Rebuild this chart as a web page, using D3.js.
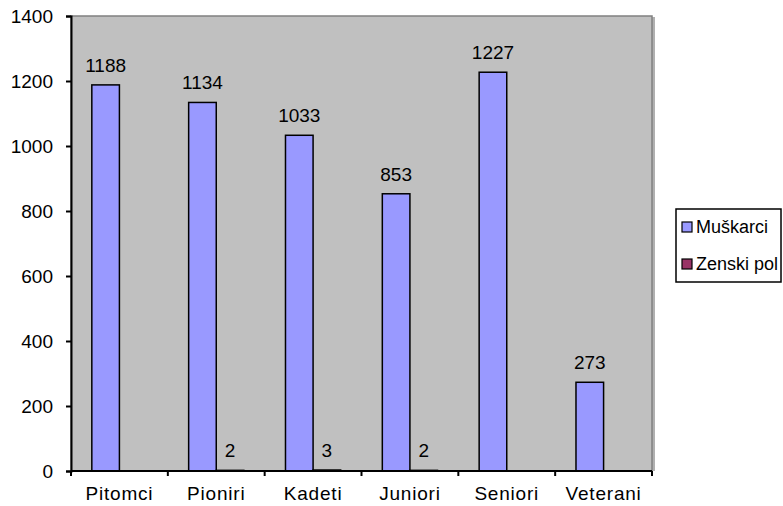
<html>
<head>
<meta charset="utf-8">
<style>
  body { margin: 0; background: #fff; }
  text { font-family: "Liberation Sans", Arial, sans-serif; fill: #000; }
</style>
</head>
<body>
<script src="https://d3js.org/d3.v7.min.js"></script>
<script>
var categories = ["Pitomci", "Pioniri", "Kadeti", "Juniori", "Seniori", "Veterani"]
var muskarci = [1188, 1134, 1033, 853, 1227, 273]
var zenski = [null, 2, 3, 2, null, null]
var seriesNames = ["Muškarci", "Zenski pol"]
var yTicks = [0, 200, 400, 600, 800, 1000, 1200, 1400]

var width = 783, height = 506
var margin = {left: 71, top: 16, right: 131, bottom: 35}
var colors = ["#9999ff", "#993366"]
var fs = "19px"

var svg = d3.select("body").append("svg")
    .attr("width", width)
    .attr("height", height)

var x0 = d3.scaleBand()
    .domain(categories)
    .range([margin.left, width - margin.right])
    .paddingInner(0.43)
    .paddingOuter(0.215)

var x1 = d3.scaleBand()
    .domain([0, 1])
    .range([0, x0.bandwidth()])

var y = d3.scaleLinear()
    .domain([0, 1400])
    .range([height - margin.bottom, margin.top])

// plot background with a little shadow
svg.append("rect")
    .attr("x", margin.left + 3)
    .attr("y", margin.top + 1)
    .attr("width", width - margin.right - margin.left)
    .attr("height", height - margin.bottom - margin.top - 1)
    .attr("fill", "#b0b0b0")
svg.append("rect")
    .attr("x", margin.left)
    .attr("y", margin.top)
    .attr("width", width - margin.right - margin.left)
    .attr("height", height - margin.bottom - margin.top)
    .attr("fill", "#c0c0c0")
    .attr("stroke", "#808080")
    .attr("stroke-width", 1.5)

var data = categories.map(function(c, i) {
    return {cat: c, vals: [muskarci[i], zenski[i]]}
})

var groups = svg.selectAll("g.grp")
    .data(data)
    .enter()
    .append("g")
    .attr("class", "grp")
    .attr("transform", function(d) { return "translate(" + x0(d.cat) + ",0)" })

groups.selectAll("rect")
    .data(function(d) { return d.vals.map(function(v, j) { return {v: v, j: j} }) })
    .enter()
    .filter(function(d) { return d.v !== null })
    .append("rect")
    .attr("x", function(d) { return x1(d.j) })
    .attr("width", x1.bandwidth())
    .attr("y", function(d) { return y(d.v) })
    .attr("height", function(d) { return y(0) - y(d.v) })
    .attr("fill", function(d) { return colors[d.j] })
    .attr("stroke", "#000")
    .attr("stroke-width", 1.5)

groups.selectAll("text.val")
    .data(function(d) { return d.vals.map(function(v, j) { return {v: v, j: j} }) })
    .enter()
    .filter(function(d) { return d.v !== null })
    .append("text")
    .attr("class", "val")
    .attr("x", function(d) { return x1(d.j) + x1.bandwidth() / 2 })
    .attr("y", function(d) { return y(d.v) - 13 })
    .attr("text-anchor", "middle")
    .style("font-size", fs)
    .text(function(d) { return d.v })

// y axis
var yAxis = svg.append("g")
    .attr("transform", "translate(" + margin.left + ",0)")
    .call(d3.axisLeft(y).tickValues(yTicks).tickSize(5).tickPadding(13).tickFormat(d3.format("d")))
yAxis.selectAll("text").style("font-size", fs).style("font-family", "Liberation Sans, Arial, sans-serif")
yAxis.selectAll("line, path").attr("stroke", "#000").attr("stroke-width", 2)

// x axis
var xAxis = svg.append("g")
    .attr("transform", "translate(0," + y(0) + ")")
    .call(d3.axisBottom(x0).tickSize(0).tickPadding(16))
xAxis.select("path").attr("stroke", "#000").attr("stroke-width", 2)
    .attr("d", "M" + margin.left + ",0H" + (width - margin.right))
xAxis.selectAll("text").style("font-size", fs).style("font-family", "Liberation Sans, Arial, sans-serif")
    .attr("letter-spacing", 0.8)

var step = (width - margin.right - margin.left) / categories.length
svg.selectAll("line.xt")
    .data(d3.range(categories.length + 1))
    .enter()
    .append("line")
    .attr("class", "xt")
    .attr("x1", function(i) { return margin.left + i * step })
    .attr("x2", function(i) { return margin.left + i * step })
    .attr("y1", y(0))
    .attr("y2", y(0) + 5)
    .attr("stroke", "#000")
    .attr("stroke-width", 2)

// legend
svg.append("rect")
    .attr("x", 676).attr("y", 209)
    .attr("width", 105).attr("height", 73)
    .attr("fill", "#fff")
    .attr("stroke", "#000")
    .attr("stroke-width", 1.5)
var legend = svg.append("g")
var li = legend.selectAll("g")
    .data(seriesNames)
    .enter()
    .append("g")
    .attr("transform", function(d, i) { return "translate(682," + (222 + i * 37) + ")" })
li.append("rect")
    .attr("width", 10).attr("height", 10)
    .attr("fill", function(d, i) { return colors[i] })
    .attr("stroke", "#000")
    .attr("stroke-width", 1.2)
li.append("text")
    .attr("x", 14)
    .attr("y", 11)
    .style("font-size", "18px")
    .text(function(d) { return d })
</script>
</body>
</html>
